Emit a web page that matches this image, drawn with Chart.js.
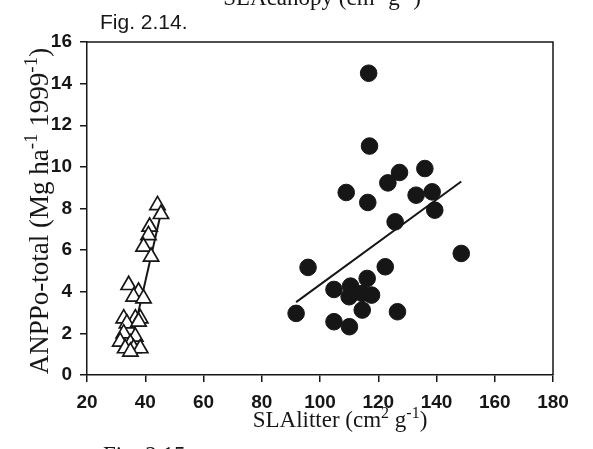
<!DOCTYPE html>
<html>
<head>
<meta charset="utf-8">
<script src="https://cdn.jsdelivr.net/npm/chart.js@4.4.0/dist/chart.umd.min.js"></script>
<style>
  html, body { margin: 0; padding: 0; background: #fff; }
  canvas { display: block; }
</style>
</head>
<body>
<canvas id="chart" width="593" height="449"></canvas>
<script>
// SLA litter vs ANPP total
const circleX = [116.7, 117.0, 127.3, 136.0, 123.3, 109.0, 133.0, 138.5, 116.4, 139.4, 125.8, 148.5, 95.9,
  122.4, 116.2, 104.8, 110.5, 110.0, 117.7, 114.5, 114.5, 126.6, 91.8, 104.8, 110.1];
const circleY = [14.5, 11.0, 9.73, 9.92, 9.23, 8.77, 8.64, 8.8, 8.29, 7.92, 7.36, 5.84, 5.17,
  5.2, 4.64, 4.11, 4.27, 3.76, 3.84, 3.92, 3.12, 3.04, 2.96, 2.56, 2.32];

const triX = [44.2, 45.4, 41.5, 41.1, 39.4, 42.0, 34.3, 37.7, 36.0, 39.4, 32.6, 36.6, 38.3,
  33.7, 37.7, 32.6, 36.6, 31.4, 34.9, 33.1, 36.0, 38.3, 34.9];
const triY = [8.16, 7.73, 7.12, 6.72, 6.16, 5.68, 4.32, 4.0, 3.76, 3.68, 2.72, 2.72, 2.72,
  2.48, 2.56, 2.0, 1.84, 1.6, 1.52, 1.28, 1.28, 1.28, 1.12];

// fitted lines (end points)
const circleFitX = [91.8, 148.5];
const circleFitY = [3.5, 9.3];
const triFitX = [34.5, 45.4];
const triFitY = [1.1, 7.8];

const toPts = (xs, ys) => xs.map((x, i) => ({ x: x, y: ys[i] }));

const ink = '#161616';
const tickFont = { family: 'Liberation Sans', size: 19, weight: 'bold' };

function richText(ctx, parts, x, y, size, supSize, rise) {
  const fontMain = size + 'px "Liberation Serif"';
  const fontSup = supSize + 'px "Liberation Serif"';
  let total = 0;
  parts.forEach(p => {
    ctx.font = p.sup ? fontSup : fontMain;
    total += ctx.measureText(p.t).width;
  });
  let cx = x - total / 2;
  ctx.textAlign = 'left';
  ctx.textBaseline = 'alphabetic';
  parts.forEach(p => {
    ctx.font = p.sup ? fontSup : fontMain;
    ctx.fillText(p.t, cx, p.sup ? y - rise : y);
    cx += ctx.measureText(p.t).width;
  });
}

const decor = {
  id: 'decor',
  afterDraw(chart) {
    const ctx = chart.ctx;
    const a = chart.chartArea;
    ctx.save();
    ctx.strokeStyle = ink;
    ctx.lineWidth = 1.5;
    ctx.beginPath();
    ctx.moveTo(a.left, a.top);
    ctx.lineTo(a.right, a.top);
    ctx.lineTo(a.right, a.bottom);
    ctx.stroke();

    ctx.fillStyle = ink;
    // x axis title
    richText(ctx, [
      { t: 'SLAlitter (cm' }, { t: '2', sup: true }, { t: ' g' }, { t: '-1', sup: true }, { t: ')' }
    ], 340, 427, 23, 16, 9);

    // y axis title
    ctx.save();
    ctx.translate(48, 211);
    ctx.rotate(-Math.PI / 2);
    richText(ctx, [
      { t: 'ANPPo-total (Mg ha' }, { t: '-1', sup: true }, { t: ' 1999' }, { t: '-1', sup: true }, { t: ')' }
    ], 0, 0, 27, 19, 11);
    ctx.restore();

    // cut-off caption from the page above
    richText(ctx, [
      { t: 'SLAcanopy (cm' }, { t: '2', sup: true }, { t: ' g' }, { t: '-1', sup: true }, { t: ')' }
    ], 322, 5, 23, 16, 9);

    ctx.font = '21px "Liberation Sans"';
    ctx.textAlign = 'left';
    ctx.textBaseline = 'alphabetic';
    ctx.fillText('Fig. 2.14.', 100, 29);

    ctx.font = '23px "Liberation Serif"';
    ctx.fillText('Fig. 2.15.', 103, 462);
    ctx.restore();
  }
};

new Chart(document.getElementById('chart'), {
  type: 'scatter',
  data: {
    datasets: [
      {
        data: toPts(circleX, circleY),
        pointStyle: 'circle',
        pointRadius: 8.3,
        backgroundColor: ink,
        borderColor: ink,
        borderWidth: 1
      },
      {
        data: toPts(triX, triY),
        pointStyle: 'triangle',
        pointRadius: 8.8,
        backgroundColor: '#fff',
        borderColor: ink,
        borderWidth: 1.7
      },
      {
        data: toPts(circleFitX, circleFitY),
        showLine: true,
        pointRadius: 0,
        borderColor: ink,
        borderWidth: 2
      },
      {
        data: toPts(triFitX, triFitY),
        showLine: true,
        pointRadius: 0,
        borderColor: ink,
        borderWidth: 2
      }
    ]
  },
  options: {
    responsive: false,
    animation: false,
    layout: { padding: { left: 0, right: 40, top: 42, bottom: 0 } },
    plugins: { legend: { display: false }, tooltip: { enabled: false } },
    scales: {
      x: {
        type: 'linear',
        min: 20,
        max: 180,
        ticks: { stepSize: 20, font: tickFont, color: ink, padding: 9 },
        grid: { drawOnChartArea: false, drawTicks: true, tickLength: 7, color: ink, lineWidth: 1.5 },
        border: { color: ink, width: 1.5 },
        afterFit(scale) { scale.height = 74; }
      },
      y: {
        min: 0,
        max: 16,
        ticks: { stepSize: 2, font: tickFont, color: ink, padding: 8 },
        grid: { drawOnChartArea: false, drawTicks: true, tickLength: 7, color: ink, lineWidth: 1.5 },
        border: { color: ink, width: 1.5 },
        afterFit(scale) { scale.width = 87; }
      }
    }
  },
  plugins: [decor]
});
</script>
</body>
</html>
